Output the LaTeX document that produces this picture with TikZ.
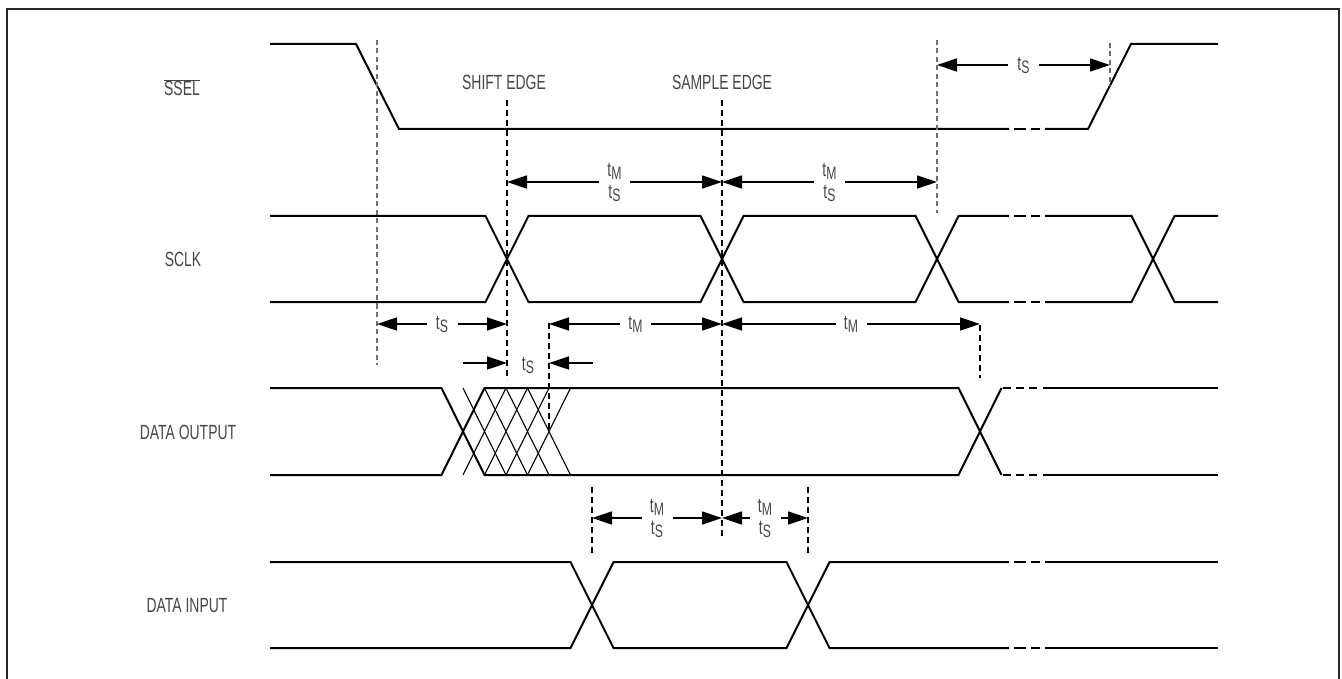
\documentclass[tikz,border=0pt]{standalone}
\usepackage{fontspec}
\setmainfont{Liberation Sans}[FakeStretch=0.68]
\usetikzlibrary{arrows.meta}
\definecolor{txt}{RGB}{70,70,70}
\definecolor{frm}{RGB}{40,40,40}
\definecolor{gdash}{RGB}{110,110,110}
\newcommand\tsub[1]{t\raisebox{-3pt}{\fontsize{18}{18}\selectfont #1}}
\begin{document}
\begin{tikzpicture}[x=1pt,y=-1pt,
  sig/.style={line width=2pt, line join=miter},
  hatch/.style={line width=1.1pt},
  bdash/.style={line width=1.2pt, dash pattern=on 6pt off 4pt},
  gdashed/.style={line width=1.8pt, draw=gdash, dash pattern=on 5pt off 3.5pt},
  dim/.style={line width=1.5pt, {Triangle[length=20pt,width=13pt]}-{Triangle[length=20pt,width=13pt]}},
  dimone/.style={line width=1.5pt, -{Triangle[length=20pt,width=13pt]}},
  lbl/.style={font=\fontsize{20.5}{22}\selectfont, text=txt, inner sep=0pt},
  dlbl/.style={lbl, fill=white, minimum width=31pt, align=center},
]
\useasboundingbox (0,0) rectangle (1342,679);
% frame
\draw[line width=2pt, frm] (7,700) -- (7,9) -- (1339,9) -- (1339,700);

% signal labels
\node[lbl, anchor=base] (lssel) at (182,96) {$\overline{\mbox{SSEL}}$};
\node[lbl, anchor=base] (lsclk) at (183,266) {SCLK};
\node[lbl, anchor=base] (ldo) at (188,439) {DATA OUTPUT};
\node[lbl, anchor=base] (ldi) at (187,612) {DATA INPUT};
\node[lbl, anchor=base] (lshift) at (504,90) {SHIFT EDGE};
\node[lbl, anchor=base] (lsample) at (722,90) {SAMPLE EDGE};

% SSEL
\draw[sig] (270,44) -- (356,44) -- (399,129) -- (1009,129);
\draw[sig] (1014,129) -- (1026,129) (1031,129) -- (1040,129);
\draw[sig] (1045,129) -- (1088,129) -- (1131,44) -- (1218,44);

% SCLK
\draw[sig] (270,216) -- (485.5,216) -- (528.5,302) -- (700.5,302) -- (743.5,216)
  -- (915.5,216) -- (958.5,302) -- (1009,302);
\draw[sig] (270,302) -- (485.5,302) -- (528.5,216) -- (700.5,216) -- (743.5,302)
  -- (915.5,302) -- (958.5,216) -- (1009,216);
\foreach \yy in {216,302}{
  \draw[sig] (1014,\yy) -- (1026,\yy) (1031,\yy) -- (1040,\yy);}
\draw[sig] (1045,302) -- (1131.5,302) -- (1174.5,216) -- (1218,216);
\draw[sig] (1045,216) -- (1131.5,216) -- (1174.5,302) -- (1218,302);

% DATA OUTPUT
\draw[sig] (270,388) -- (441.5,388) -- (484.5,475) -- (958.5,475) -- (1001.5,388);
\draw[sig] (270,475) -- (441.5,475) -- (484.5,388) -- (958.5,388) -- (1001.5,475);
\foreach \cc in {484.5,506,527.5,549}{
  \draw[hatch] (\cc-21.5,388) -- (\cc+21.5,475) (\cc-21.5,475) -- (\cc+21.5,388);}
\foreach \yy in {388,475}{
  \draw[sig] (1003,\yy) -- (1011,\yy) (1016,\yy) -- (1024,\yy) (1029,\yy) -- (1037,\yy);
  \draw[sig] (1043,\yy) -- (1218,\yy);}

% DATA INPUT
\draw[sig] (270,562) -- (570.5,562) -- (613.5,648) -- (786.5,648) -- (829.5,562) -- (1009,562);
\draw[sig] (270,648) -- (570.5,648) -- (613.5,562) -- (786.5,562) -- (829.5,648) -- (1009,648);
\foreach \yy in {562,648}{
  \draw[sig] (1014,\yy) -- (1026,\yy) (1031,\yy) -- (1040,\yy);
  \draw[sig] (1045,\yy) -- (1218,\yy);}

% reference lines
\draw[gdashed] (377,40) -- (377,365);
\draw[gdashed] (937,40) -- (937,213);
\draw[gdashed] (1110,43) -- (1110,86);
\draw[bdash] (507,100) -- (507,380);
\draw[bdash] (722,100) -- (722,537);
\draw[bdash] (549,323) -- (549,432);
\draw[bdash] (980,325) -- (980,378);
\draw[bdash] (592,487) -- (592,557);
\draw[bdash] (808,487) -- (808,557);

% timing arrows
\draw[dim] (937,65) -- (1110,65);
\node[dlbl] (a1) at (1023.5,65) {\tsub{S}};

\draw[dim] (507,182) -- (722,182);
\node[dlbl] (a2) at (614.5,182) {\tsub{M}\\\tsub{S}};
\draw[dim] (722,182) -- (937,182);
\node[dlbl] (a3) at (829.5,182) {\tsub{M}\\\tsub{S}};

\draw[dim] (377,324) -- (507,324);
\node[dlbl] (a4) at (442,324) {\tsub{S}};
\draw[dim] (549,324) -- (722,324);
\node[dlbl] (a5) at (635.5,324) {\tsub{M}};
\draw[dim] (722,324) -- (980,324);
\node[dlbl] (a6) at (851,324) {\tsub{M}};

\draw[dimone] (463,363) -- (507,363);
\draw[dimone] (593,363) -- (549,363);
\node[lbl] (a7) at (528,365) {\tsub{S}};

\draw[dim] (592,518) -- (722,518);
\node[dlbl] (a8) at (657,518) {\tsub{M}\\\tsub{S}};
\draw[dim] (722,518) -- (808,518);
\node[dlbl] (a9) at (765,518) {\tsub{M}\\\tsub{S}};
\end{tikzpicture}
\end{document}
